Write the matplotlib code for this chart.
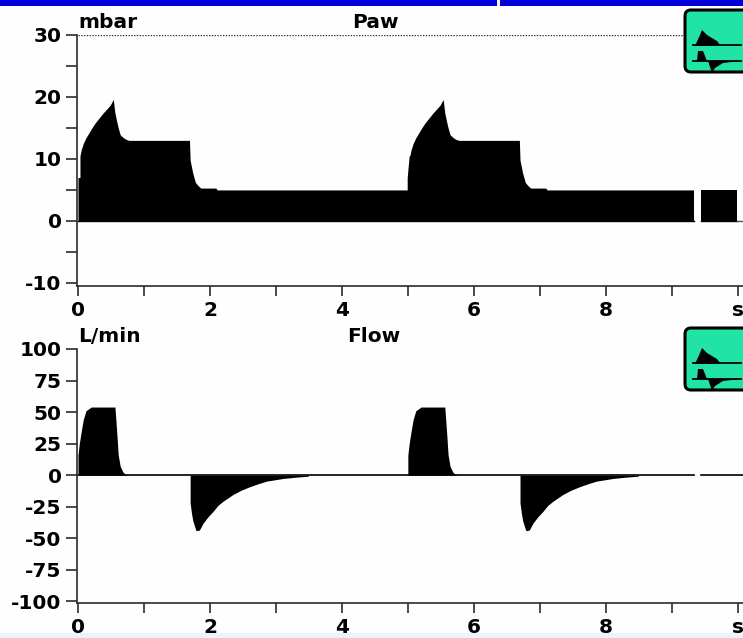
import matplotlib
matplotlib.use("Agg")
import matplotlib.pyplot as plt
from matplotlib.patches import FancyBboxPatch, Rectangle

W, H = 743, 638

# Airway pressure, mbar
paw_t = [0.0, 0.03, 0.03, 0.05, 0.08, 0.12, 0.16, 0.21, 0.26, 0.32, 0.38, 0.44, 0.49, 0.535, 0.56, 0.59, 0.61, 0.64, 0.68,
         0.72, 0.77, 1.69, 1.70, 1.74, 1.78, 1.82, 1.86, 2.09, 2.11,
         4.99, 4.99, 5.02, 5.03, 5.05, 5.08, 5.12, 5.16, 5.21, 5.26, 5.32, 5.38, 5.44, 5.49, 5.535, 5.56, 5.59, 5.61, 5.64, 5.68,
         5.72, 5.77, 6.69, 6.70, 6.74, 6.78, 6.82, 6.86, 7.09, 7.11, 9.33]
paw_v = [7.0, 7.0, 10.5, 11.5, 12.5, 13.4, 14.1, 15.0, 15.8, 16.6, 17.4, 18.1, 18.7, 19.6, 17.4, 15.9, 15.0, 13.9, 13.5,
         13.2, 13.0, 13.0, 9.8, 7.7, 6.2, 5.7, 5.3, 5.3, 5.0,
         5.0, 7.0, 10.5, 10.5, 11.5, 12.5, 13.4, 14.1, 15.0, 15.8, 16.6, 17.4, 18.1, 18.7, 19.6, 17.4, 15.9, 15.0, 13.9, 13.5,
         13.2, 13.0, 13.0, 9.8, 7.7, 6.2, 5.7, 5.3, 5.3, 5.0, 5.0]
paw_tail_t = [9.44, 9.99]
paw_tail_v = [5.0, 5.0]

# Flow, L/min
flow_t = [0.0, 0.0, 0.02, 0.05, 0.08, 0.12, 0.2, 0.56, 0.585, 0.61, 0.64, 0.68, 0.72, 0.76, 1.70, 1.70, 1.72, 1.74, 1.77, 1.79, 1.84,
          1.90, 1.97, 2.05, 2.12, 2.2, 2.35, 2.47, 2.6, 2.73, 2.86, 3.11, 3.3, 3.49, 3.5,
          5.0, 5.0, 5.02, 5.05, 5.08, 5.12, 5.2, 5.56, 5.585, 5.61, 5.64, 5.68, 5.72, 5.76, 6.70, 6.70, 6.72, 6.74, 6.77, 6.79, 6.84,
          6.90, 6.97, 7.05, 7.12, 7.2, 7.35, 7.47, 7.6, 7.73, 7.86, 8.11, 8.3, 8.49, 8.5, 9.33]
flow_v = [0.0, 16.0, 25.0, 35.0, 44.0, 51.0, 54.0, 54.0, 36.0, 16.0, 7.0, 2.6, 0.5, 0.0, 0.0, -22.0, -30.0, -36.0, -41.0, -44.0, -43.5,
          -37.7, -33.0, -28.5, -24.0, -20.6, -15.3, -12.0, -9.2, -6.8, -4.7, -2.6, -1.6, -0.8, 0.0,
          0.0, 16.0, 25.0, 35.0, 44.0, 51.0, 54.0, 54.0, 36.0, 16.0, 7.0, 2.6, 0.5, 0.0, 0.0, -22.0, -30.0, -36.0, -41.0, -44.0, -43.5,
          -37.7, -33.0, -28.5, -24.0, -20.6, -15.3, -12.0, -9.2, -6.8, -4.7, -2.6, -1.6, -0.8, 0.0, 0.0]
flow_tail_t = [9.44, 10.08]
flow_tail_v = [0.0, 0.0]

x_ticks = [0, 1, 2, 3, 4, 5, 6, 7, 8, 9, 10]
x_labels = ["0", "", "2", "", "4", "", "6", "", "8", "", "s"]
paw_ticks = [-10, -5, 0, 5, 10, 15, 20, 25, 30]
paw_labels = ["-10", "", "0", "", "10", "", "20", "", "30"]
flow_ticks = [-100, -75, -50, -25, 0, 25, 50, 75, 100]
flow_labels = ["-100", "-75", "-50", "-25", "0", "25", "50", "75", "100"]

# little waveform shapes on the green buttons
icon_top_x = [12, 17, 19, 24, 34, 37]
icon_top_y = [38, 27, 22, 27, 33, 37]
icon_low_x = [14, 15, 20, 24]
icon_low_y = [53, 43, 43, 53]
icon_neg_x = [25, 29, 32, 40, 57]
icon_neg_y = [53, 65, 60, 55, 53]

FONT = "DejaVu Sans"
INK = "#2b2b2b"


def px_axes(left, top, right, bottom):
    return fig.add_axes([left / W, 1 - bottom / H, (right - left) / W, (bottom - top) / H])


def style_axes(ax, yticks, ylabels):
    ax.set_xlim(-0.015, 10.08)
    ax.set_xticks(x_ticks)
    ax.set_xticklabels(x_labels)
    ax.set_yticks(yticks)
    ax.set_yticklabels(ylabels)
    for side in ["top", "right"]:
        ax.spines[side].set_visible(False)
    for side in ["left", "bottom"]:
        ax.spines[side].set_linewidth(1.2)
        ax.spines[side].set_color(INK)
    ax.tick_params(axis="x", length=7, width=1.2, color=INK, pad=4, labelsize=14.5)
    ax.tick_params(axis="y", length=8, width=1.2, color=INK, pad=3, labelsize=14.5)
    for lab in ax.get_xticklabels() + ax.get_yticklabels():
        lab.set_fontweight("bold")
        lab.set_fontfamily(FONT)
    ax.patch.set_alpha(0)


def draw_icon(top):
    ax = px_axes(683, top, 743, top + 66)
    ax.set_xlim(0, 60)
    ax.set_ylim(66, 0)
    ax.axis("off")
    box = FancyBboxPatch((2, 2), 70, 62, boxstyle="round,pad=0,rounding_size=6", fc="#22e3a6", ec="black", lw=2.2)
    ax.add_patch(box)
    ax.fill(icon_top_x, icon_top_y, color="black", lw=0)
    ax.fill(icon_low_x, icon_low_y, color="black", lw=0)
    ax.fill(icon_neg_x, icon_neg_y, color="black", lw=0)
    ax.plot([10, 58], [37, 37], color="black", lw=1.3)
    ax.plot([10, 58], [53, 53], color="black", lw=1.3)


fig = plt.figure(figsize=(W / 100, H / 100), dpi=100, facecolor="#fefefe")

# window bars top and bottom
fig.patches.append(Rectangle((0, 1 - 6 / H), 1, 6 / H, transform=fig.transFigure, fc="#0000d8", ec="none"))
fig.patches.append(Rectangle((497.5 / W, 1 - 6 / H), 3 / W, 6 / H, transform=fig.transFigure, fc="#f4f4f4", ec="none"))
fig.patches.append(Rectangle((0, 0), 1, 5 / H, transform=fig.transFigure, fc="#ecf3fd", ec="none"))

ax1 = px_axes(77, 35, 743, 286)
ax1.fill_between(paw_t, paw_v, 0, color="black", lw=0)
ax1.fill_between(paw_tail_t, paw_tail_v, 0, color="black", lw=0)
ax1.plot([0, 9.33], [0, 0], color="black", lw=1)
ax1.plot([9.44, 9.99], [0, 0], color="black", lw=1)
ax1.plot([9.99, 10.08], [0, 0], color="#555555", lw=1)
ax1.plot([0, 9.17], [30, 30], color="#333333", lw=1, ls=(0, (1, 1)))
ax1.set_ylim(-10.5, 30)
style_axes(ax1, paw_ticks, paw_labels)

ax2 = px_axes(77, 349, 743, 603)
ax2.fill_between(flow_t, flow_v, 0, color="black", lw=0)
ax2.plot([0, 9.33], [0, 0], color="black", lw=1.2)
ax2.plot(flow_tail_t, flow_tail_v, color="black", lw=1.2)
ax2.set_ylim(-101.3, 100)
style_axes(ax2, flow_ticks, flow_labels)

for txt, x, y, ha in [("mbar", 78, 23, "left"), ("Paw", 375, 22, "center"),
                      ("L/min", 78, 337, "left"), ("Flow", 374, 337, "center")]:
    fig.text(x / W, 1 - y / H, txt, ha=ha, va="center", fontsize=14.5, fontweight="bold", family=FONT)

draw_icon(8)
draw_icon(326)

fig.savefig("out.png", dpi=100, facecolor=fig.get_facecolor())
